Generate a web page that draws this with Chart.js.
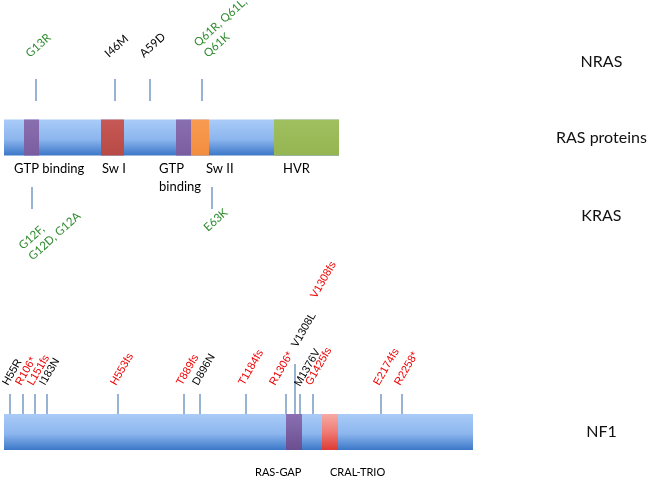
<!DOCTYPE html>
<html>
<head>
<meta charset="utf-8">
<script src="https://cdn.jsdelivr.net/npm/chart.js@4.4.1/dist/chart.umd.min.js"></script>
<style>
  html, body { margin: 0; padding: 0; background: #fff; }
  #wrap { width: 650px; height: 479px; position: relative; }
</style>
</head>
<body>
<div id="wrap"><canvas id="diagram"></canvas></div>
<script>
// Row names shown on the right
const rowNames = ['NRAS', 'RAS proteins', 'KRAS', 'NF1'];

// RAS protein schematic (positions along the drawn bar, not to residue scale)
const rasSpan = [4, 339];
const rasDomains = ['GTP binding', 'Sw I', 'GTP binding', 'Sw II', 'HVR'];
const rasDomainStart = [24, 101, 176, 191, 274];
const rasDomainEnd = [39, 124, 191, 209, 339];

// NRAS mutations (above the bar), '|' = line break
const nrasMutations = ['G13R', 'I46M', 'A59D', 'Q61R, Q61L,|Q61K'];
const nrasMutPos = [36, 115, 150, 202];
const nrasRecurrent = [true, false, false, true];

// KRAS mutations (below the bar)
const krasMutations = ['G12F,|G12D, G12A', 'E63K'];
const krasMutPos = [32, 212];

// NF1 schematic
const nf1Span = [4, 473];
const nf1Domains = ['RAS-GAP', 'CRAL-TRIO'];
const nf1DomainStart = [286, 322];
const nf1DomainEnd = [302, 338];

const nf1Mutations = ['H55R', 'R106*', 'L151fs', 'I183N', 'H553fs', 'T889fs', 'D896N', 'T1184fs',
                      'R1306*', 'V1308L', 'V1308fs', 'M1376V', 'G1425fs', 'E2174fs', 'R2258*'];
const nf1MutPos = [10, 23, 35, 47, 118, 184, 200, 246, 286, 295, 295, 300, 313, 381, 402];
const nf1Truncating = [false, true, true, false, true, true, false, true,
                       true, false, true, false, true, true, true];

// Layout (vertical positions in the diagram's own units)
const L = {
    rowY: [62, 137.5, 216, 432],
    rasY: 137.5, nf1Y: 432, barH: 36,
    nrasTickY: 90, krasTickY: 198, nf1TickY: 404, tallTickY: 389,
    tickR: 11, nf1TickR: 10, tallTickR: 25,
    rasLabelX: [14, 102, 159, 206, 283], rasLabelWrap: [false, false, true, false, false],
    rasLabelY: 169, rasLabelLineH: 18,
    nf1LabelX: [255, 330], nf1LabelY: 472
};

const labelNudge = {
    'Q61R, Q61L,|Q61K': [12, 0],
    'G12F,|G12D, G12A': [-5, 18],
    'R1306*': [-9, 0],
    'V1308L': [4, -38],
    'V1308fs': [23, -87],
    'M1376V': [2, 1]
};

const greenText = '#2e8b2e';
const tickColor = '#7698c6';

const fills = {
    backbone: [[0, '#a9cbf8'], [0.55, '#8cb6ee'], [1, '#3b77c8']],
    'GTP binding': [[0, '#8a6fb0'], [1, '#7a5d9e']],
    'Sw I': [[0, '#c65955'], [1, '#b84a46']],
    'Sw II': [[0, '#f89c52'], [1, '#f28d3e']],
    'HVR': [[0, '#a0c05f'], [1, '#95b553']],
    'RAS-GAP': [[0, '#8a70b2'], [1, '#6a4e90']],
    'CRAL-TRIO': [[0, '#f7aaa4'], [0.5, '#ef7b74'], [1, '#dc3a35']]
};

function gradientFor(ctx, stops) {
    const chart = ctx.chart;
    const ys = chart.scales.y;
    if (!ys || !ctx.raw || !chart.chartArea) return stops[stops.length - 1][1];
    const yc = ys.getPixelForValue(ctx.raw.y);
    if (!isFinite(yc)) return stops[stops.length - 1][1];
    const g = chart.ctx.createLinearGradient(0, yc - L.barH / 2, 0, yc + L.barH / 2);
    stops.forEach(([o, c]) => g.addColorStop(o, c));
    return g;
}

// Bars built from the arrays
const domainNames = rasDomains.concat(nf1Domains);
const domainData = rasDomains.map((_, i) => ({ x: [rasDomainStart[i], rasDomainEnd[i]], y: L.rasY }))
    .concat(nf1Domains.map((_, i) => ({ x: [nf1DomainStart[i], nf1DomainEnd[i]], y: L.nf1Y })));
const backboneData = [{ x: rasSpan, y: L.rasY }, { x: nf1Span, y: L.nf1Y }];

// NF1 ticks: one per position, taller where two changes share it
const nf1Unique = [...new Set(nf1MutPos)];
const nf1Shared = p => nf1MutPos.filter(q => q === p).length > 1;

const tickStyle = {
    type: 'scatter',
    pointStyle: 'line',
    pointRotation: 90,
    pointBorderColor: tickColor,
    pointBackgroundColor: tickColor,
    pointBorderWidth: 1.5
};

function drawTilted(c, text, px, py, deg, lineH, color, font) {
    const lines = text.split('|');
    c.save();
    c.translate(px, py);
    c.rotate(-deg * Math.PI / 180);
    c.font = font;
    c.fillStyle = color;
    c.textAlign = 'left';
    c.textBaseline = 'alphabetic';
    lines.forEach((t, i) => c.fillText(t, 0, i * lineH));
    c.restore();
}

const labelPlugin = {
    id: 'diagramLabels',
    afterDatasetsDraw(chart) {
        const c = chart.ctx;
        const xs = chart.scales.x, ys = chart.scales.y;
        const rasFont = '11.5px Lato';
        const nf1Font = '11px "Liberation Sans", Arial';
        const a = 42 * Math.PI / 180, lh = 14.5;

        // domain names
        c.save();
        c.fillStyle = '#000';
        c.textAlign = 'left';
        c.textBaseline = 'middle';
        c.font = '13px Lato';
        rasDomains.forEach((name, i) => {
            const lines = L.rasLabelWrap[i] ? name.split(' ') : [name];
            const y0 = ys.getPixelForValue(L.rasLabelY);
            lines.forEach((t, j) => c.fillText(t, xs.getPixelForValue(L.rasLabelX[i]), y0 + j * L.rasLabelLineH));
        });
        c.font = '11px Lato';
        nf1Domains.forEach((name, i) => {
            c.fillText(name, xs.getPixelForValue(L.nf1LabelX[i]), ys.getPixelForValue(L.nf1LabelY));
        });
        c.restore();

        // NRAS: last line sits just above the tick
        const nrasTop = ys.getPixelForValue(L.nrasTickY) - L.tickR;
        nrasMutations.forEach((m, i) => {
            const n = m.split('|').length;
            const nd = labelNudge[m] || [0, 0];
            let px = xs.getPixelForValue(nrasMutPos[i]) - 6 + nd[0];
            let py = nrasTop - 21 + nd[1];
            px -= (n - 1) * lh * Math.sin(a);
            py -= (n - 1) * lh * Math.cos(a);
            drawTilted(c, m, px, py, 42, lh, nrasRecurrent[i] ? greenText : '#000', rasFont);
        });

        // KRAS: below the tick
        const krasBottom = ys.getPixelForValue(L.krasTickY) + L.tickR;
        krasMutations.forEach((m, i) => {
            const nd = labelNudge[m] || [0, 0];
            drawTilted(c, m, xs.getPixelForValue(krasMutPos[i]) - 4 + nd[0], krasBottom + 23 + nd[1],
                42, lh, greenText, rasFont);
        });

        // NF1
        const nf1Top = ys.getPixelForValue(L.nf1TickY) - L.nf1TickR;
        nf1Mutations.forEach((m, i) => {
            const nd = labelNudge[m] || [0, 0];
            drawTilted(c, m, xs.getPixelForValue(nf1MutPos[i]) - 2 + nd[0], nf1Top - 8 + nd[1],
                60, 13, nf1Truncating[i] ? '#f00000' : '#000', nf1Font);
        });
    }
};

new Chart(document.getElementById('diagram'), {
    type: 'scatter',
    data: {
        datasets: [
            {
                type: 'bar',
                label: 'domains',
                data: domainData,
                borderWidth: 0,
                backgroundColor: ctx => gradientFor(ctx, fills[domainNames[ctx.dataIndex]] || fills.backbone)
            },
            {
                type: 'bar',
                label: 'protein',
                data: backboneData,
                borderWidth: 0,
                backgroundColor: ctx => gradientFor(ctx, fills.backbone)
            },
            Object.assign({
                label: 'NRAS',
                data: nrasMutPos.map(p => ({ x: p, y: L.nrasTickY })),
                pointRadius: L.tickR
            }, tickStyle),
            Object.assign({
                label: 'KRAS',
                data: krasMutPos.map(p => ({ x: p, y: L.krasTickY })),
                pointRadius: L.tickR
            }, tickStyle),
            Object.assign({
                label: 'NF1',
                data: nf1Unique.map(p => ({ x: p, y: nf1Shared(p) ? L.tallTickY : L.nf1TickY })),
                pointRadius: ctx => (ctx.raw && nf1Shared(ctx.raw.x)) ? L.tallTickR : L.nf1TickR
            }, tickStyle)
        ]
    },
    options: {
        responsive: true,
        maintainAspectRatio: false,
        animation: false,
        events: [],
        datasets: {
            bar: { indexAxis: 'y', grouped: false, maxBarThickness: L.barH }
        },
        layout: { padding: 0, autoPadding: false },
        plugins: { legend: { display: false }, tooltip: { enabled: false } },
        scales: {
            x: {
                type: 'linear', display: false, min: 0, max: 555, offset: false,
                grid: { display: false, offset: false }
            },
            y: {
                type: 'linear', position: 'right', reverse: true, min: 0, max: 479, offset: false,
                grid: { display: false, offset: false, drawTicks: false },
                border: { display: false },
                afterBuildTicks: scale => { scale.ticks = L.rowY.map(v => ({ value: v })); },
                afterFit: scale => {
                    scale.width = 95;
                    scale.paddingTop = 0;
                    scale.paddingBottom = 0;
                },
                ticks: {
                    callback: (v, i) => rowNames[i],
                    crossAlign: 'center',
                    padding: 1,
                    color: '#111',
                    font: { family: 'Lato', size: 16 }
                }
            }
        }
    },
    plugins: [labelPlugin]
});
</script>
</body>
</html>
